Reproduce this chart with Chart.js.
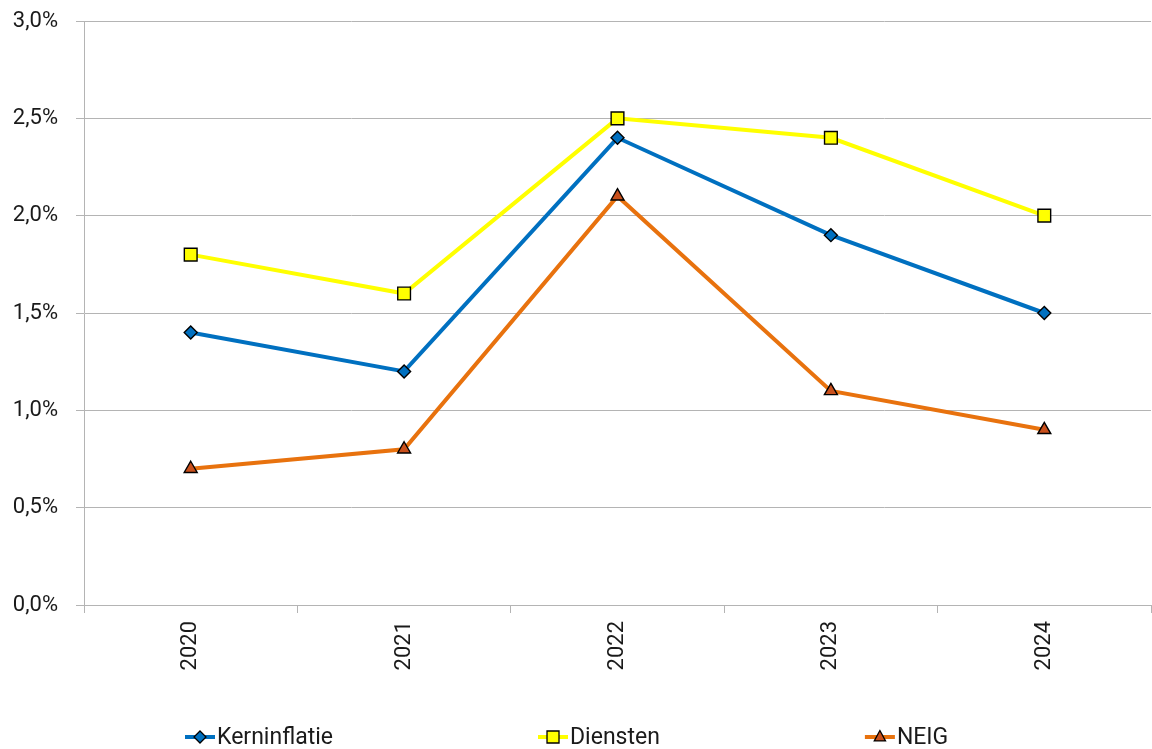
<!DOCTYPE html>
<html>
<head>
<meta charset="utf-8">
<script src="https://cdn.jsdelivr.net/npm/chart.js@4/dist/chart.umd.min.js"></script>
<style>
  html, body { margin: 0; padding: 0; background: #ffffff; }
  #wrap { width: 1152px; height: 749px; position: relative; }
</style>
</head>
<body>
<div id="wrap"><canvas id="chart" width="1152" height="749"></canvas></div>
<script>
// Jaren op de horizontale as
const years = ['2020', '2021', '2022', '2023', '2024'];

// Inflatie per component (%)
const kerninflatie = [1.4, 1.2, 2.4, 1.9, 1.5];
const diensten     = [1.8, 1.6, 2.5, 2.4, 2.0];
const neig         = [0.7, 0.8, 2.1, 1.1, 0.9];

// Verticale as
const yMin = 0;
const yMax = 3;
const yStep = 0.5;

const FONT = 'Roboto, "Liberation Sans", Arial, sans-serif';
const TEXT = '#1a1a1a';
const GRID = '#b4b4b4';

const fmtPct = v => v.toFixed(1).replace('.', ',') + '%';

// Legend drawn as line + marker, like a spreadsheet legend
const lineLegend = {
  id: 'lineLegend',
  afterDraw(chart) {
    const ctx = chart.ctx;
    const y = 737;
    let x = 185;
    const gap = 205;
    ctx.save();
    ctx.font = '23px ' + FONT;
    ctx.textBaseline = 'middle';
    chart.data.datasets.forEach(ds => {
      const lineLen = 30;
      // line
      ctx.strokeStyle = ds.borderColor;
      ctx.lineWidth = 4;
      ctx.beginPath();
      ctx.moveTo(x, y);
      ctx.lineTo(x + lineLen, y);
      ctx.stroke();
      // marker
      const cx = x + lineLen / 2;
      ctx.fillStyle = ds.pointBackgroundColor;
      ctx.strokeStyle = ds.pointBorderColor;
      ctx.lineWidth = 1.3;
      ctx.beginPath();
      if (ds.pointStyle === 'rectRot') {
        const r = 6;
        ctx.moveTo(cx, y - r); ctx.lineTo(cx + r, y); ctx.lineTo(cx, y + r); ctx.lineTo(cx - r, y);
      } else if (ds.pointStyle === 'rect') {
        const s = 6;
        ctx.rect(cx - s, y - s, 2 * s, 2 * s);
      } else {
        const r = 6.5;
        ctx.moveTo(cx, y - r);
        ctx.lineTo(cx + r * 0.866, y + r * 0.6);
        ctx.lineTo(cx - r * 0.866, y + r * 0.6);
      }
      ctx.closePath();
      ctx.fill();
      ctx.stroke();
      // label
      ctx.fillStyle = TEXT;
      ctx.textAlign = 'left';
      ctx.fillText(ds.label, x + lineLen + 2, y + 1);
      x += lineLen + 2 + ctx.measureText(ds.label).width + gap;
    });
    ctx.restore();
  }
};

new Chart(document.getElementById('chart'), {
  type: 'line',
  data: {
    labels: years,
    datasets: [
      {
        label: 'Kerninflatie',
        data: kerninflatie,
        borderColor: '#0070C0',
        backgroundColor: '#0070C0',
        borderWidth: 4,
        pointStyle: 'rectRot',
        pointRadius: 6.5,
        pointBackgroundColor: '#0070C0',
        pointBorderColor: '#000000',
        pointBorderWidth: 1.4,
        tension: 0
      },
      {
        label: 'Diensten',
        data: diensten,
        borderColor: '#FFFF00',
        backgroundColor: '#FFFF00',
        borderWidth: 4,
        pointStyle: 'rect',
        pointRadius: 9,
        pointBackgroundColor: '#FFFF00',
        pointBorderColor: '#000000',
        pointBorderWidth: 1.4,
        tension: 0
      },
      {
        label: 'NEIG',
        data: neig,
        borderColor: '#E8720E',
        backgroundColor: '#E8720E',
        borderWidth: 4,
        pointStyle: 'triangle',
        pointRadius: 7.5,
        pointBackgroundColor: '#C9501C',
        pointBorderColor: '#000000',
        pointBorderWidth: 1.4,
        tension: 0
      }
    ]
  },
  options: {
    responsive: false,
    animation: false,
    devicePixelRatio: 1,
    layout: { autoPadding: false, padding: { top: 21, right: 1, bottom: 50, left: 0 } },
    plugins: {
      legend: { display: false },
      tooltip: { enabled: false }
    },
    scales: {
      x: {
        type: 'category',
        offset: true,
        grid: {
          offset: true,
          drawOnChartArea: false,
          drawTicks: true,
          tickLength: 8,
          color: GRID
        },
        border: { display: true, color: GRID, width: 1 },
        ticks: {
          color: TEXT,
          font: { family: FONT, size: 22 },
          minRotation: 90,
          maxRotation: 90,
          padding: 8
        },
        afterFit(scale) {
          scale.height = 94;
          scale.paddingLeft = 0;
          scale.paddingRight = 0;
        }
      },
      y: {
        min: yMin,
        max: yMax,
        grid: {
          color: GRID,
          tickLength: 8,
          drawTicks: true
        },
        border: { display: true, color: GRID, width: 1 },
        ticks: {
          stepSize: yStep,
          color: TEXT,
          font: { family: FONT, size: 22 },
          padding: 18,
          callback: v => fmtPct(v)
        },
        afterFit(scale) {
          scale.width = 84;
          scale.paddingTop = 0;
          scale.paddingBottom = 0;
        }
      }
    }
  },
  plugins: [lineLegend]
});
</script>
</body>
</html>
